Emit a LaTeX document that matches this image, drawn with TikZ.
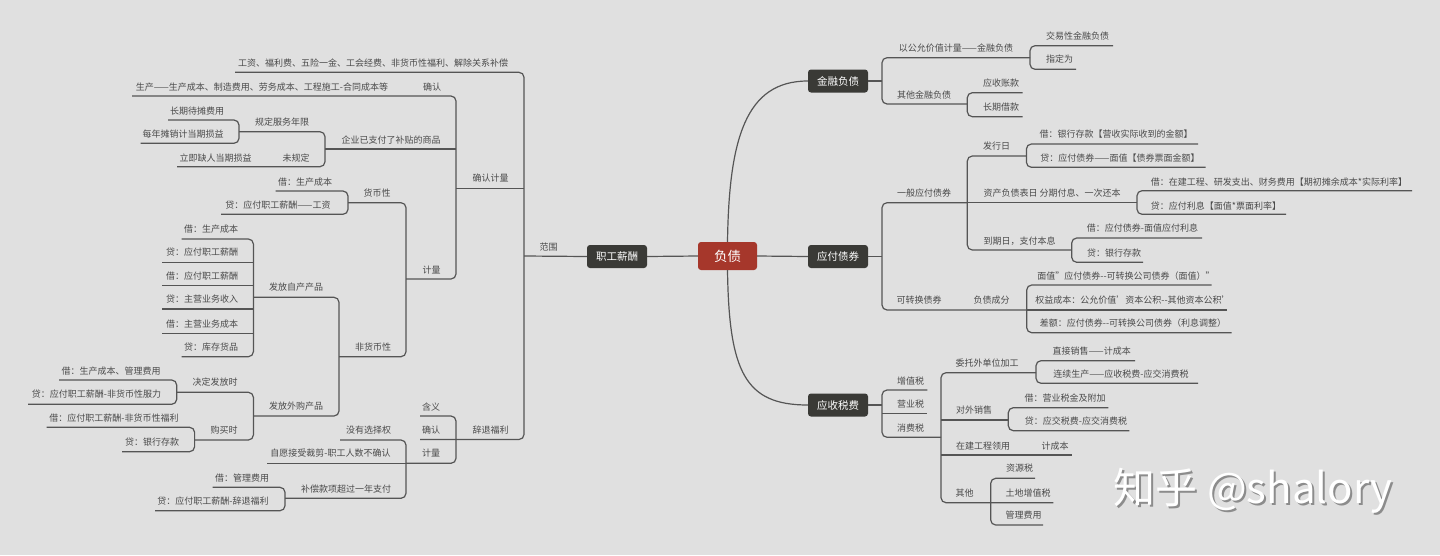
\documentclass[tikz,border=0pt]{standalone}
\usepackage{fontspec}
\setmainfont{Noto Sans CJK SC}
\definecolor{bg}{HTML}{E0E0E0}
\definecolor{lc}{HTML}{555555}
\definecolor{tc}{HTML}{4A4A4A}
\definecolor{dkc}{HTML}{3A3A36}
\definecolor{rdc}{HTML}{A6372B}
\newcommand\cc[4]{\coordinate (#1-l) at (#2,#4); \coordinate (#1-r) at (#3,#4);}
\tikzset{
  ln/.style={draw=lc, line width=1.2pt, rounded corners=5pt},
  lbl/.style={font=\fontsize{9}{9}\selectfont, text=tc, inner sep=0pt},
  dk/.style={fill=dkc, text=white, rounded corners=3pt, minimum width=60pt, minimum height=23pt, inner sep=0pt, font=\fontsize{10.5}{10.5}\selectfont},
  rd/.style={fill=rdc, text=white, rounded corners=3pt, minimum width=59pt, minimum height=28pt, inner sep=0pt, font=\fontsize{13.5}{13.5}\selectfont},
  wmk/.style={anchor=west, inner sep=0pt, font=\fontsize{42}{42}\selectfont}
}
\begin{document}
\begin{tikzpicture}[x=1pt,y=-1pt]
\fill[bg] (0,0) rectangle (1440,555);
\useasboundingbox (0,0) rectangle (1440,555);

% ---------- main boxes ----------
\node[rd] (fz) at (727.5,256) {负债};
\node[dk] (zg) at (617,256.5) {职工薪酬};
\node[dk] (jr) at (838,81) {金融负债};
\node[dk] (yf) at (838,256.5) {应付债券};
\node[dk] (ys) at (838,405) {应收税费};

\draw[ln] (fz.west) -- (zg.east);
\draw[ln] (fz.east) -- (yf.west);
\draw[ln] (fz.north) .. controls (729,140) and (745,81) .. (jr.west);
\draw[ln] (fz.south) .. controls (729,372) and (745,405) .. (ys.west);

% ---------- left: coordinates ----------
\cc{fw}{524}{587}{256}
\cc{gz}{235}{524}{72.3}
\cc{qrjl}{456}{524}{188.3}
\cc{ctfl}{420}{524}{439.5}
\cc{qr1}{132}{456}{96}
\cc{qy}{325}{456}{149}
\cc{jl1}{406}{456}{279}
\cc{gdfw}{239}{325}{131.7}
\cc{wgd}{177}{325}{166.7}
\cc{cqdt}{168}{239}{120}
\cc{mnt}{140.5}{239}{143.3}
\cc{hbx}{348}{406}{202.7}
\cc{fhbx}{339}{406}{356.7}
\cc{j1}{275.5}{348}{191}
\cc{d1}{221}{348}{214.3}
\cc{zc}{253.4}{339}{297.3}
\cc{wg}{253.4}{339}{416}
\cc{a1}{181.5}{253.4}{239}
\cc{a2}{162}{253.4}{262.3}
\cc{a3}{162}{253.4}{285.7}
\cc{a4}{162}{253.4}{309}
\cc{a5}{162}{253.4}{333.3}
\cc{a6}{181.5}{253.4}{356.7}
\cc{jdff}{176.7}{253.4}{392.3}
\cc{gms}{194.6}{253.4}{440}
\cc{b1}{59}{176.7}{380}
\cc{b2}{28}{176.7}{404.3}
\cc{c1}{46.5}{194.6}{427.3}
\cc{c2}{122}{194.6}{451.7}
\cc{hy}{420}{456}{416}
\cc{jl2}{406}{456}{463.3}
\cc{zy}{267}{406}{463.3}
\cc{myxz}{340}{406}{440}
\cc{bc}{285}{406}{498.3}
\cc{e1}{212.5}{285}{487.3}
\cc{e2}{155}{285}{510.7}

% ---------- left: lines ----------
\draw[ln] (fw-l) -- (zg.west);
\draw[ln] (gz-l) -- (gz-r) -- (ctfl-r) -- (ctfl-l);
\draw[ln] (qrjl-l) -- (qrjl-r);
\draw[ln] (qr1-l) -- (qr1-r) -- (jl1-r) -- (jl1-l);
\draw[ln] (qy-l) -- (qy-r);
\draw[ln] (gdfw-l) -- (gdfw-r) -- (wgd-r) -- (wgd-l);
\draw[ln] (cqdt-l) -- (cqdt-r) -- (mnt-r) -- (mnt-l);
\draw[ln] (hbx-l) -- (hbx-r) -- (fhbx-r) -- (fhbx-l);
\draw[ln] (j1-l) -- (j1-r) -- (d1-r) -- (d1-l);
\draw[ln] (zc-l) -- (zc-r) -- (wg-r) -- (wg-l);
\draw[ln] (a1-l) -- (a1-r) -- (a6-r) -- (a6-l);
\draw[ln] (a2-l) -- (a2-r);
\draw[ln] (a3-l) -- (a3-r);
\draw[ln] (a4-l) -- (a4-r);
\draw[ln] (a5-l) -- (a5-r);
\draw[ln] (jdff-l) -- (jdff-r) -- (gms-r) -- (gms-l);
\draw[ln] (b1-l) -- (b1-r) -- (b2-r) -- (b2-l);
\draw[ln] (c1-l) -- (c1-r) -- (c2-r) -- (c2-l);
\draw[ln] (hy-l) -- (hy-r) -- (jl2-r) -- (jl2-l);
\draw[ln] (myxz-l) -- (myxz-r) -- (bc-r) -- (bc-l);
\draw[ln] (zy-l) -- (zy-r);
\draw[ln] (e1-l) -- (e1-r) -- (e2-r) -- (e2-l);

% ---------- left: labels ----------
\node[lbl] (fwt) at (548.5,247) {范围};
\node[lbl] (gz) at (373,63.3) {工资、福利费、五险一金、工会经费、非货币性福利、解除关系补偿};
\node[lbl] (qrjl) at (490.5,178.3) {确认计量};
\node[lbl] (ctfl) at (490.5,430) {辞退福利};
\node[lbl] (qr1) at (432,86.7) {确认};
\node[lbl] (sc) at (262,86.7) {生产——生产成本、制造费用、劳务成本、工程施工-合同成本等};
\node[lbl] (qy) at (391,140) {企业已支付了补贴的商品};
\node[lbl] (jl1) at (431.5,270) {计量};
\node[lbl] (gdfw) at (282,122.3) {规定服务年限};
\node[lbl] (wgd) at (296,157.7) {未规定};
\node[lbl] (ljqr) at (215.5,157.7) {立即缺人当期损益};
\node[lbl] (cqdt) at (197,110.7) {长期待摊费用};
\node[lbl] (mnt) at (183,134.3) {每年摊销计当期损益};
\node[lbl] (hbx) at (377,193.3) {货币性};
\node[lbl] (fhbx) at (373,347.3) {非货币性};
\node[lbl] (j1) at (305,181.7) {借：生产成本};
\node[lbl] (d1) at (278,205) {贷：应付职工薪酬——工资};
\node[lbl] (zc) at (296,287.3) {发放自产产品};
\node[lbl] (wg) at (296,406) {发放外购产品};
\node[lbl] (a1) at (211,229.3) {借：生产成本};
\node[lbl] (a2) at (202,252.3) {贷：应付职工薪酬};
\node[lbl] (a3) at (202,276) {借：应付职工薪酬};
\node[lbl] (a4) at (202,299.3) {贷：主营业务收入};
\node[lbl] (a5) at (202,324) {借：主营业务成本};
\node[lbl] (a6) at (211,347.3) {贷：库存货品};
\node[lbl] (jdff) at (215,382.3) {决定发放时};
\node[lbl] (gms) at (224,430) {购买时};
\node[lbl] (b1) at (111,370.7) {借：生产成本、管理费用};
\node[lbl] (b2) at (96.5,394.3) {贷：应付职工薪酬-非货币性服力};
\node[lbl] (c1) at (114,418.3) {借：应付职工薪酬-非货币性福利};
\node[lbl] (c2) at (152,442.3) {贷：银行存款};
\node[lbl] (hy) at (431,406.7) {含义};
\node[lbl] (qr2) at (431,430) {确认};
\node[lbl] (jl2) at (431,453.3) {计量};
\node[lbl] (myxz) at (368.5,430) {没有选择权};
\node[lbl] (zy) at (330.5,453.3) {自愿接受裁剪-职工人数不确认};
\node[lbl] (bc) at (346,489.3) {补偿款项超过一年支付};
\node[lbl] (e1) at (242,477.7) {借：管理费用};
\node[lbl] (e2) at (213,500.7) {贷：应付职工薪酬-辞退福利};

% ---------- right: coordinates ----------
\coordinate (jrb) at (882,81);
\coordinate (yfb) at (882,256.5);
\coordinate (ysb) at (882,405);
\cc{gy}{882}{1030}{57.7}
\cc{qt}{882}{967.3}{104}
\cc{jy}{1030}{1113}{45.7}
\cc{zdw}{1030}{1076}{69.3}
\cc{yszk}{967.3}{1022.7}{92.7}
\cc{cqjk}{967.3}{1022.7}{116.7}
\cc{yb}{882}{967.3}{202.7}
\cc{kz}{882}{1026.7}{310}
\cc{fxr}{967.3}{1026.4}{156}
\cc{zcfz}{967.3}{1137}{202.7}
\cc{dqr}{967.3}{1071.7}{250}
\cc{f1}{1026.4}{1198}{144}
\cc{f2}{1026.4}{1205.7}{167.3}
\cc{g1}{1137}{1412}{190.7}
\cc{g2}{1137}{1286}{214.3}
\cc{h1}{1071.7}{1202}{238}
\cc{h2}{1071.7}{1143}{262.3}
\cc{k1}{1026.7}{1211.7}{285}
\cc{k2}{1026.7}{1227.3}{310}
\cc{k3}{1026.7}{1231.7}{332.7}
\cc{zzs}{882}{927.3}{390}
\cc{yys}{882}{927.3}{413.3}
\cc{xfs}{882}{941}{437.3}
\cc{wt}{941}{1036}{372.7}
\cc{dw}{941}{1008.3}{420}
\cc{zj}{941}{1071.7}{455}
\cc{qt2}{941}{1053.3}{502.7}
\cc{zjxs}{1036}{1135}{360.7}
\cc{lxsc}{1036}{1198}{383.3}
\cc{m1}{1008.3}{1108.3}{407.7}
\cc{m2}{1008.3}{1129.3}{430.7}
\cc{zys}{990.7}{1035}{478.3}
\cc{glf}{990.7}{1043}{525}

% ---------- right: lines ----------
\draw[ln] (jr.east) -- (jrb);
\draw[ln] (yf.east) -- (yfb);
\draw[ln] (ys.east) -- (ysb);
\draw[ln] (gy-r) -- (gy-l) -- (qt-l) -- (qt-r);
\draw[ln] (jy-r) -- (jy-l) -- (zdw-l) -- (zdw-r);
\draw[ln] (yszk-r) -- (yszk-l) -- (cqjk-l) -- (cqjk-r);
\draw[ln] (yb-r) -- (yb-l) -- (kz-l) -- (kz-r);
\draw[ln] (fxr-r) -- (fxr-l) -- (dqr-l) -- (dqr-r);
\draw[ln] (zcfz-l) -- (zcfz-r);
\draw[ln] (f1-r) -- (f1-l) -- (f2-l) -- (f2-r);
\draw[ln] (g1-r) -- (g1-l) -- (g2-l) -- (g2-r);
\draw[ln] (h1-r) -- (h1-l) -- (h2-l) -- (h2-r);
\draw[ln] (k1-r) -- (k1-l) -- (k3-l) -- (k3-r);
\draw[ln] (k2-l) -- (k2-r);
\draw[ln] (zzs-r) -- (zzs-l) -- (xfs-l) -- (xfs-r);
\draw[ln] (yys-l) -- (yys-r);
\draw[ln] (wt-r) -- (wt-l) -- (qt2-l) -- (qt2-r);
\draw[ln] (dw-l) -- (dw-r);
\draw[ln] (zj-l) -- (zj-r);
\draw[ln] (zjxs-r) -- (zjxs-l) -- (lxsc-l) -- (lxsc-r);
\draw[ln] (m1-r) -- (m1-l) -- (m2-l) -- (m2-r);
\draw[ln] (zys-r) -- (zys-l) -- (glf-l) -- (glf-r);

% ---------- right: labels ----------
\node[lbl] (gy) at (956,47.7) {以公允价值计量——金融负债};
\node[lbl] (qt) at (924,95) {其他金融负债};
\node[lbl] (jy) at (1077.5,36) {交易性金融负债};
\node[lbl] (zdw) at (1059.5,59.3) {指定为};
\node[lbl] (yszk) at (1001,82.7) {应收账款};
\node[lbl] (cqjk) at (1001,107.3) {长期借款};
\node[lbl] (yb) at (924,193.3) {一般应付债券};
\node[lbl] (kz) at (919,300) {可转换债券};
\node[lbl] (fzcf) at (991.7,300) {负债成分};
\node[lbl] (fxr) at (996.5,146) {发行日};
\node[lbl] (zcfz) at (1052,192.7) {资产负债表日 分期付息、一次还本};
\node[lbl] (dqr) at (1019.5,240.7) {到期日，支付本息};
\node[lbl] (f1) at (1116,134) {借：银行存款【营收实际收到的金额】};
\node[lbl] (f2) at (1120,157.7) {贷：应付债券——面值【债券票面金额】};
\node[lbl] (g1) at (1279,181.7) {借：在建工程、研发支出、财务费用【期初摊余成本*实际利率】};
\node[lbl] (g2) at (1216,205.7) {贷：应付利息【面值*票面利率】};
\node[lbl] (h1) at (1142.5,228.3) {借：应付债券-面值应付利息};
\node[lbl] (h2) at (1114,252.8) {贷：银行存款};
\node[lbl] (k1) at (1126,276) {面值"应付债券-{}-可转换公司债券（面值）"};
\node[lbl] (k2) at (1133,300) {权益成本：公允价值'资本公积-{}-其他资本公积'};
\node[lbl] (k3) at (1133,322.7) {差额：应付债券-{}-可转换公司债券（利息调整）};
\node[lbl] (zzs) at (910.5,380.7) {增值税};
\node[lbl] (yys) at (910.5,404) {营业税};
\node[lbl] (xfs) at (910.5,428.3) {消费税};
\node[lbl] (wt) at (987,362.7) {委托外单位加工};
\node[lbl] (dw) at (974,410) {对外销售};
\node[lbl] (zj) at (983,446) {在建工程领用};
\node[lbl] (jcb) at (1055,446) {计成本};
\node[lbl] (qt2) at (964.7,492.7) {其他};
\node[lbl] (zjxs) at (1091.7,350.7) {直接销售——计成本};
\node[lbl] (lxsc) at (1121,374) {连续生产——应收税费-应交消费税};
\node[lbl] (m1) at (1065,398.3) {借：营业税金及附加};
\node[lbl] (m2) at (1076,420.7) {贷：应交税费-应交消费税};
\node[lbl] (zys) at (1019.5,468.3) {资源税};
\node[lbl] (tdz) at (1028,492.7) {土地增值税};
\node[lbl] (glf) at (1023.7,515) {管理费用};

% ---------- watermark ----------
\node[wmk, text=black!45] (wms) at (1115.5,492.5) {知乎 @shalory};
\node[wmk, text=white] (wm) at (1113.5,490.5) {知乎 @shalory};
\end{tikzpicture}
\end{document}
